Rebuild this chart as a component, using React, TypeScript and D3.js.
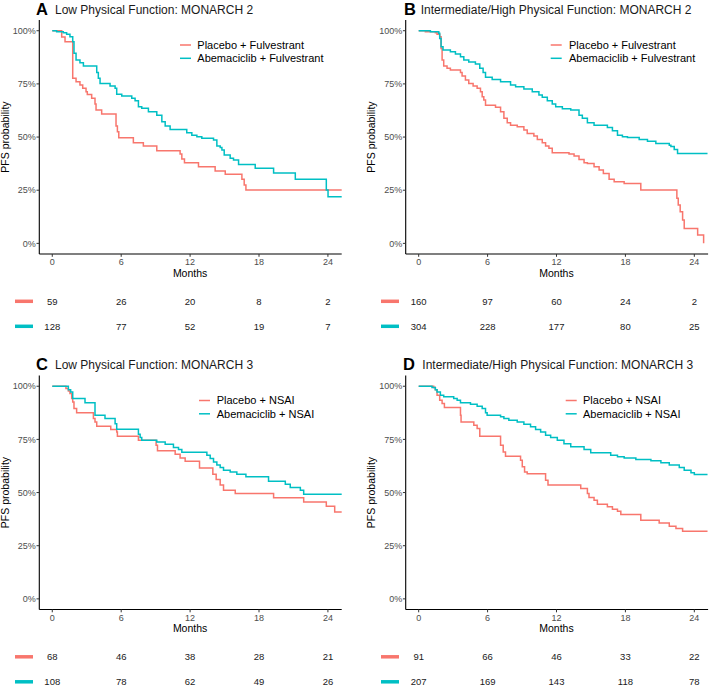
import React from "react";
import * as d3 from "d3";

const RED = "#F8766D";
const CYAN = "#00BFC4";
const FONT = "'Liberation Sans', Arial, Helvetica, sans-serif";

const monthTicks = [0, 6, 12, 18, 24];
const pctTicks = [0, 0.25, 0.5, 0.75, 1];
const pctLabels = ["0%", "25%", "50%", "75%", "100%"];

const panelLetters = ["A", "B", "C", "D"];
const panelTitles = [
  "Low Physical Function: MONARCH 2",
  "Intermediate/High Physical Function: MONARCH 2",
  "Low Physical Function: MONARCH 3",
  "Intermediate/High Physical Function: MONARCH 3",
];
const placeboLabels = ["Placebo + Fulvestrant", "Placebo + Fulvestrant", "Placebo + NSAI", "Placebo + NSAI"];
const abemaLabels = ["Abemaciclib + Fulvestrant", "Abemaciclib + Fulvestrant", "Abemaciclib + NSAI", "Abemaciclib + NSAI"];

// Kaplan–Meier steps: [month, PFS probability after the step]
const kmAPlacebo: [number, number][] = [[0,1],[0.82,0.97],[1.11,0.948],[1.78,0.776],[2.07,0.76],[2.41,0.745],[2.65,0.729],[2.94,0.713],[3.05,0.70],[3.43,0.682],[3.72,0.655],[3.81,0.627],[4.30,0.608],[5.55,0.552],[5.67,0.525],[5.79,0.497],[7.06,0.473],[7.93,0.458],[9.10,0.436],[11.13,0.42],[11.28,0.397],[11.51,0.379],[12.73,0.36],[14.18,0.34],[15.06,0.325],[16.51,0.302],[16.71,0.274],[16.86,0.251]];
const kmAAbema: [number, number][] = [[0,1],[0.38,0.995],[0.96,0.991],[1.25,0.983],[1.54,0.972],[1.78,0.948],[1.89,0.894],[2.07,0.862],[2.41,0.85],[2.71,0.834],[3.87,0.803],[4.01,0.776],[4.16,0.752],[5.03,0.74],[5.47,0.729],[5.61,0.701],[6.05,0.693],[6.92,0.682],[7.21,0.671],[7.50,0.643],[7.79,0.635],[8.37,0.619],[9.10,0.603],[9.54,0.572],[9.83,0.552],[10.26,0.536],[11.71,0.52],[12.15,0.509],[12.59,0.502],[13.02,0.494],[14.04,0.486],[14.33,0.458],[14.62,0.451],[14.77,0.439],[14.97,0.415],[15.49,0.40],[15.78,0.392],[16.22,0.371],[17.67,0.353],[19.27,0.331],[21.16,0.302],[23.86,0.251],[24.01,0.219]];
const kmBPlacebo: [number, number][] = [[0,1],[0.58,0.995],[1.45,0.991],[1.60,0.983],[1.83,0.972],[1.95,0.917],[2.04,0.862],[2.18,0.834],[2.47,0.823],[2.76,0.815],[3.64,0.803],[3.78,0.787],[4.07,0.768],[4.36,0.752],[4.74,0.74],[5.09,0.729],[5.38,0.713],[5.53,0.69],[5.67,0.674],[5.82,0.65],[6.69,0.64],[7.13,0.619],[7.42,0.588],[7.71,0.567],[8.0,0.556],[8.58,0.549],[9.16,0.533],[9.45,0.517],[10.03,0.505],[10.33,0.489],[10.76,0.473],[11.05,0.458],[11.34,0.447],[11.63,0.426],[13.09,0.42],[13.53,0.411],[13.96,0.395],[14.40,0.379],[14.69,0.376],[15.27,0.36],[15.71,0.345],[16.08,0.329],[16.58,0.301],[17.02,0.29],[17.89,0.282],[19.34,0.251],[22.48,0.212],[22.60,0.18],[22.77,0.149],[22.98,0.11],[23.12,0.07],[24.29,0.039],[24.81,0]];
const kmBAbema: [number, number][] = [[0,1],[1.02,0.995],[1.75,0.988],[1.83,0.964],[1.95,0.925],[2.12,0.909],[2.76,0.901],[3.20,0.89],[3.64,0.878],[3.93,0.862],[4.36,0.853],[4.94,0.843],[5.32,0.823],[5.61,0.803],[5.82,0.781],[6.40,0.771],[7.13,0.76],[8.0,0.745],[8.44,0.737],[9.16,0.726],[9.89,0.713],[10.47,0.698],[10.76,0.687],[11.2,0.671],[11.63,0.655],[11.93,0.643],[12.51,0.633],[13.24,0.627],[13.96,0.603],[14.25,0.588],[14.69,0.567],[15.27,0.556],[16.43,0.545],[16.87,0.53],[17.31,0.509],[17.74,0.502],[18.18,0.498],[19.2,0.489],[19.92,0.48],[20.65,0.47],[21.82,0.462],[21.96,0.455],[22.25,0.442],[22.54,0.423]];
const kmCPlacebo: [number, number][] = [[0,1],[1.19,0.989],[1.40,0.978],[1.54,0.966],[1.69,0.942],[1.78,0.926],[1.89,0.895],[2.12,0.875],[3.58,0.848],[3.72,0.832],[3.87,0.812],[5.09,0.796],[5.61,0.785],[5.67,0.765],[7.50,0.746],[9.04,0.723],[9.16,0.696],[10.70,0.68],[11.13,0.663],[11.57,0.647],[12.82,0.616],[13.98,0.586],[14.27,0.561],[14.62,0.535],[14.91,0.511],[15.93,0.495],[19.27,0.475],[21.89,0.456],[23.86,0.436],[24.59,0.409]];
const kmCAbema: [number, number][] = [[0,1],[1.40,0.984],[1.60,0.973],[1.78,0.942],[2.85,0.922],[3.72,0.864],[4.59,0.848],[5.47,0.824],[5.61,0.798],[7.50,0.774],[7.65,0.759],[7.79,0.746],[9.10,0.738],[9.83,0.727],[10.55,0.712],[10.99,0.702],[11.28,0.69],[13.46,0.676],[13.75,0.66],[14.04,0.644],[14.33,0.629],[14.62,0.618],[14.91,0.605],[15.49,0.597],[16.07,0.586],[16.86,0.574],[18.83,0.553],[20.29,0.539],[20.72,0.524],[21.6,0.511],[21.89,0.492]];
const kmDPlacebo: [number, number][] = [[0,1],[1.31,0.994],[1.45,0.984],[1.60,0.958],[1.83,0.934],[2.04,0.919],[2.24,0.90],[3.64,0.864],[3.69,0.832],[4.80,0.817],[5.09,0.801],[5.32,0.765],[7.13,0.723],[7.36,0.691],[7.56,0.671],[8.87,0.652],[9.02,0.621],[9.22,0.597],[9.45,0.589],[11.05,0.558],[11.26,0.535],[14.11,0.519],[14.69,0.495],[14.83,0.477],[15.27,0.464],[15.56,0.445],[16.43,0.433],[16.87,0.422],[17.31,0.412],[17.6,0.397],[19.34,0.37],[20.94,0.357],[21.82,0.342],[22.40,0.331],[22.98,0.318]];
const kmDAbema: [number, number][] = [[0,1],[1.16,0.994],[1.45,0.984],[1.60,0.973],[1.89,0.958],[2.18,0.95],[3.05,0.942],[3.35,0.934],[3.64,0.922],[4.51,0.915],[5.09,0.906],[5.53,0.895],[5.82,0.875],[5.96,0.864],[7.13,0.856],[7.42,0.848],[7.85,0.84],[8.58,0.832],[9.16,0.821],[9.74,0.809],[10.18,0.796],[10.62,0.785],[11.05,0.77],[11.49,0.759],[12.07,0.746],[12.65,0.73],[13.24,0.715],[14.40,0.702],[14.98,0.687],[16.72,0.676],[17.31,0.668],[17.89,0.663],[18.91,0.655],[20.22,0.649],[21.09,0.64],[21.82,0.629],[22.69,0.618],[23.12,0.605],[23.71,0.593],[24.0,0.585]];

// last follow-up month of each curve
const endPlacebo = [25.2, 24.81, 25.2, 25.15];
const endAbema = [25.2, 25.15, 25.2, 25.15];

// numbers at risk at months 0, 6, 12, 18, 24
const riskAPlacebo = [59, 26, 20, 8, 2];
const riskAAbema = [128, 77, 52, 19, 7];
const riskBPlacebo = [160, 97, 60, 24, 2];
const riskBAbema = [304, 228, 177, 80, 25];
const riskCPlacebo = [68, 46, 38, 28, 21];
const riskCAbema = [108, 78, 62, 49, 26];
const riskDPlacebo = [91, 66, 46, 33, 22];
const riskDAbema = [207, 169, 143, 118, 78];

const placeboCurves = [kmAPlacebo, kmBPlacebo, kmCPlacebo, kmDPlacebo];
const abemaCurves = [kmAAbema, kmBAbema, kmCAbema, kmDAbema];
const placeboRisk = [riskAPlacebo, riskBPlacebo, riskCPlacebo, riskDPlacebo];
const abemaRisk = [riskAAbema, riskBAbema, riskCAbema, riskDAbema];

// layout
const colLeft = [39.3, 405.7];
const plotW = 302.4;
const rowTop = [0, 355.5];
const letterX = [36, 404, 36, 403];
const titleX = [55, 420.7, 55, 422.3];
const legLineX = [180, 550.7, 199, 565.7];
const legTextX = [197.3, 569, 216.7, 583];
const yTitleX = [5.5, 371];
const riskDashX = [15, 381];

function Panel({ i }: { i: number }) {
  const col = i % 2;
  const row = Math.floor(i / 2);
  const oy = rowTop[row];
  const x0 = colLeft[col];
  const x = d3.scaleLinear().domain([-1.13, 25.2]).range([x0, x0 + plotW]);
  const y = d3.scaleLinear().domain([-0.05, 1.05]).range([oy + 254, oy + 20.1]);
  const line = d3
    .line<[number, number]>()
    .x((d) => x(d[0]))
    .y((d) => y(d[1]))
    .curve(d3.curveStepAfter);
  const withEnd = (pts: [number, number][], end: number): [number, number][] => [
    ...pts,
    [end, pts[pts.length - 1][1]],
  ];
  const series = [
    { pts: withEnd(placeboCurves[i], endPlacebo[i]), color: RED, label: placeboLabels[i], risk: placeboRisk[i] },
    { pts: withEnd(abemaCurves[i], endAbema[i]), color: CYAN, label: abemaLabels[i], risk: abemaRisk[i] },
  ];
  const midY = (y(1) + y(0)) / 2;
  return (
    <g fontFamily={FONT}>
      <text x={letterX[i]} y={oy + 14.8} fontSize={16.5} fontWeight="bold" fill="#000">
        {panelLetters[i]}
      </text>
      <text x={titleX[i]} y={oy + 13.8} fontSize={12} fill="#1a1a1a">
        {panelTitles[i]}
      </text>
      {series.map((s, k) => (
        <path key={k} d={line(s.pts) || ""} fill="none" stroke={s.color} strokeWidth={1.5} />
      ))}
      <line x1={x0} x2={x0} y1={oy + 20.1} y2={oy + 254} stroke="#000" strokeWidth={1.1} />
      <line x1={x0} x2={x0 + plotW} y1={oy + 254} y2={oy + 254} stroke="#000" strokeWidth={1.1} />
      {pctTicks.map((t, k) => (
        <g key={k}>
          <line x1={x0 - 2.8} x2={x0} y1={y(t)} y2={y(t)} stroke="#333" strokeWidth={1} />
          <text x={x0 - 3.5} y={y(t) + 3.2} fontSize={9} textAnchor="end" fill="#4d4d4d">
            {pctLabels[k]}
          </text>
        </g>
      ))}
      {monthTicks.map((t) => (
        <g key={t}>
          <line x1={x(t)} x2={x(t)} y1={oy + 254} y2={oy + 256.8} stroke="#333" strokeWidth={1} />
          <text x={x(t)} y={oy + 265} fontSize={9} textAnchor="middle" fill="#4d4d4d">
            {t}
          </text>
        </g>
      ))}
      <text x={x(12)} y={oy + 276.8} fontSize={10.5} textAnchor="middle" fill="#000">
        Months
      </text>
      <text
        transform={`translate(${yTitleX[col] + 3.8},${midY}) rotate(-90)`}
        fontSize={10.5}
        textAnchor="middle"
        fill="#000"
      >
        PFS probability
      </text>
      {series.map((s, k) => {
        const ly = oy + 45 + k * 13.3;
        return (
          <g key={k}>
            <line x1={legLineX[i]} x2={legLineX[i] + 11} y1={ly} y2={ly} stroke={s.color} strokeWidth={1.5} />
            <text x={legTextX[i]} y={ly + 3.9} fontSize={11} fill="#000">
              {s.label}
            </text>
          </g>
        );
      })}
      {series.map((s, k) => {
        const ry = oy + 301.3 + k * 25;
        return (
          <g key={k}>
            <line x1={riskDashX[col]} x2={riskDashX[col] + 18} y1={ry} y2={ry} stroke={s.color} strokeWidth={3.5} />
            {s.risk.map((n, j) => (
              <text key={j} x={x(monthTicks[j])} y={ry + 3.2} fontSize={9.5} textAnchor="middle" fill="#1a1a1a">
                {n}
              </text>
            ))}
          </g>
        );
      })}
    </g>
  );
}

export default function App() {
  return (
    <svg
      width={709}
      height={686}
      style={{ position: "absolute", left: 0, top: 0, background: "#fff" }}
    >
      <rect width={709} height={686} fill="#fff" />
      {[0, 1, 2, 3].map((i) => (
        <Panel key={i} i={i} />
      ))}
    </svg>
  );
}
